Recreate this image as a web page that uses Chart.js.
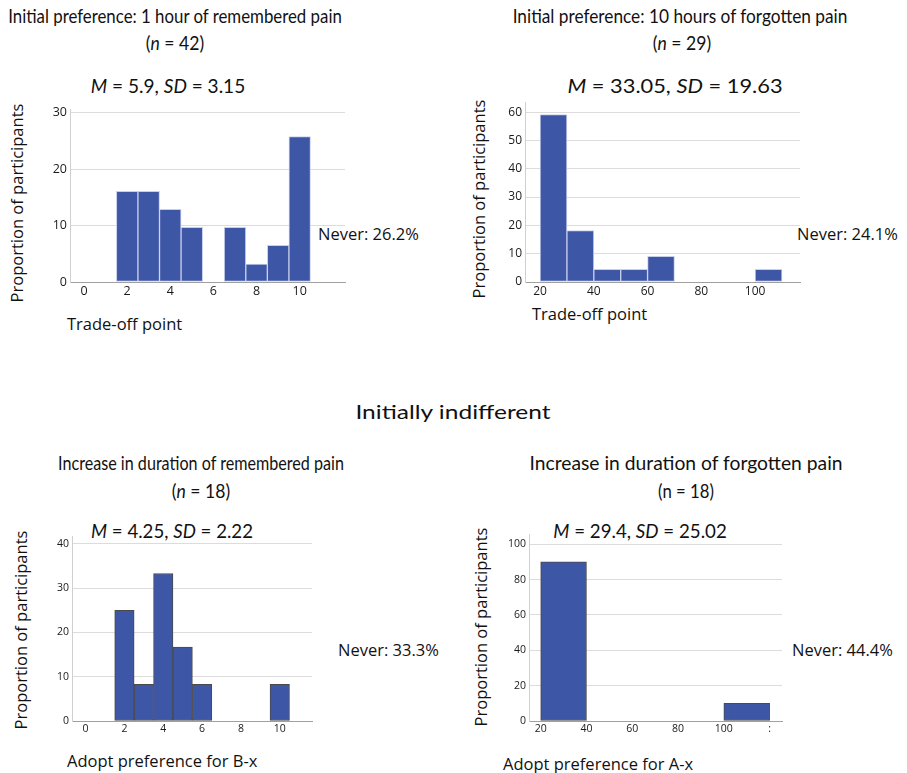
<!DOCTYPE html>
<html lang="en">
<head>
    <meta charset="UTF-8">
    <title>Trade-off point histograms</title>
    <script src="https://cdn.jsdelivr.net/npm/chart.js"></script>
    <style>
        body {
            margin: 0;
            background: #fff;
            font-family: "Open Sans", Arial, sans-serif;
            color: #111;
        }
        #page {
            position: relative;
            width: 907px;
            height: 773px;
            overflow: hidden;
        }
        .txt {
            position: absolute;
            white-space: nowrap;
            transform: translate(-50%, -50%);
        }
        .head {
            font-family: Lato, "Open Sans", sans-serif;
            font-size: 20px;
        }
        .ytitle {
            font-size: 16.5px;
            transform: translate(-50%, -50%) rotate(-90deg);
        }
        .xtitle, .never {
            font-size: 16.5px;
            transform: translate(0, -50%);
        }
        .box {
            position: absolute;
        }
    </style>
</head>
<body>
<div id="page">
    <div class="txt head" data-w="334" style="left:175px; top:15px">Initial preference: 1 hour of remembered pain</div>
    <div class="txt head" data-w="58" style="left:175px; top:42px">(<i>n</i> = 42)</div>
    <div class="txt head" data-w="154" style="left:168px; top:85px"><i>M</i> = 5.9, <i>SD</i> = 3.15</div>

    <div class="txt head" data-w="335" style="left:680px; top:15px">Initial preference: 10 hours of forgotten pain</div>
    <div class="txt head" data-w="58" style="left:682px; top:42px">(<i>n</i> = 29)</div>
    <div class="txt head" data-w="215" style="left:675px; top:85px"><i>M</i> = 33.05, <i>SD</i> = 19.63</div>

    <div class="txt head" data-w="195" style="left:453px; top:411px">Initially indifferent</div>

    <div class="txt head" data-w="286" style="left:201px; top:462px">Increase in duration of remembered pain</div>
    <div class="txt head" data-w="58" style="left:201px; top:490px">(<i>n</i> = 18)</div>
    <div class="txt head" data-w="162" style="left:172px; top:530px"><i>M</i> = 4.25, <i>SD</i> = 2.22</div>

    <div class="txt head" data-w="313" style="left:686px; top:462px">Increase in duration of forgotten pain</div>
    <div class="txt head" data-w="56" style="left:686px; top:490px">(n = 18)</div>
    <div class="txt head" data-w="174" style="left:640px; top:530px"><i>M</i> = 29.4, <i>SD</i> = 25.02</div>

    <div class="txt ytitle" style="left:16px; top:203px">Proportion of participants</div>
    <div class="txt ytitle" style="left:478px; top:199px">Proportion of participants</div>
    <div class="txt ytitle" style="left:20px; top:630px">Proportion of participants</div>
    <div class="txt ytitle" style="left:480px; top:627px">Proportion of participants</div>

    <div class="txt xtitle" style="left:67px; top:323px">Trade-off point</div>
    <div class="txt xtitle" style="left:532px; top:313px">Trade-off point</div>
    <div class="txt xtitle" style="left:67px; top:760px">Adopt preference for B-x</div>
    <div class="txt xtitle" style="left:503px; top:763px">Adopt preference for A-x</div>

    <div class="txt never" style="left:318px; top:233px">Never: 26.2%</div>
    <div class="txt never" style="left:797px; top:233px">Never: 24.1%</div>
    <div class="txt never" style="left:338px; top:649px">Never: 33.3%</div>
    <div class="txt never" style="left:792px; top:649px">Never: 44.4%</div>

    <div class="box" id="box1"><canvas id="chart1"></canvas></div>
    <div class="box" id="box2"><canvas id="chart2"></canvas></div>
    <div class="box" id="box3"><canvas id="chart3"></canvas></div>
    <div class="box" id="box4"><canvas id="chart4"></canvas></div>
</div>

<script>
    // bin centres and percentages (of those who had a trade-off point)
    const remBins = [2, 3, 4, 5, 6, 7, 8, 9, 10];
    const remValues = [16.1, 16.1, 12.9, 9.7, 0, 9.7, 3.2, 6.5, 25.8];
    const remTicks = [0, 2, 4, 6, 8, 10];

    const forgBins = [25, 35, 45, 55, 65, 75, 85, 95, 105];
    const forgValues = [59.1, 18.2, 4.5, 4.5, 9.1, 0, 0, 0, 4.5];
    const forgTicks = [20, 40, 60, 80, 100];

    const indRemBins = [2, 3, 4, 5, 6, 7, 8, 9, 10];
    const indRemValues = [25, 8.3, 33.3, 16.7, 8.3, 0, 0, 0, 8.3];
    const indRemTicks = [0, 2, 4, 6, 8, 10];

    const indForgBins = [30, 50, 70, 90, 110];
    const indForgValues = [90, 0, 0, 0, 10];
    const indForgTicks = [20, 40, 60, 80, 100, 120];
    const indForgTickLabels = ['20', '40', '60', '80', '100', ':'];

    const barFill = '#3e56a6';

    // plot area of each panel in page pixels, plus axis ranges
    const panels = [
        { id: 1, bins: remBins, values: remValues, ticks: remTicks, labels: null,
          left: 70, right: 345, top: 107, bottom: 282,
          xmin: -0.65, xmax: 12.1, ymax: 30.6, step: 10, font: 12.5, border: '#c9cfea' },
        { id: 2, bins: forgBins, values: forgValues, ticks: forgTicks, labels: null,
          left: 525, right: 800, top: 100, bottom: 282,
          xmin: 14.4, xmax: 116.7, ymax: 63.5, step: 10, font: 12, border: '#c9cfea' },
        { id: 3, bins: indRemBins, values: indRemValues, ticks: indRemTicks, labels: null,
          left: 72, right: 312, top: 535, bottom: 721,
          xmin: -0.7, xmax: 11.66, ymax: 41.7, step: 10, font: 10.5, border: '#4a4a4a' },
        { id: 4, bins: indForgBins, values: indForgValues, ticks: indForgTicks, labels: indForgTickLabels,
          left: 529, right: 782, top: 533, bottom: 721,
          xmin: 14.9, xmax: 125.4, ymax: 105.6, step: 20, font: 10.5, border: '#4a4a4a' }
    ];

    const yAxisW = 40;
    const xAxisH = 26;
    const padTop = 8;
    const padRight = 4;

    function makePanel(p) {
        const box = document.getElementById('box' + p.id);
        box.style.left = (p.left - yAxisW) + 'px';
        box.style.top = (p.top - padTop) + 'px';
        box.style.width = (yAxisW + p.right - p.left + padRight) + 'px';
        box.style.height = (padTop + p.bottom - p.top + xAxisH) + 'px';

        const yTicks = [];
        for (let v = 0; v <= p.ymax; v += p.step) yTicks.push({ value: v });

        const ctx = document.getElementById('chart' + p.id).getContext('2d');
        new Chart(ctx, {
            type: 'bar',
            data: {
                datasets: [{
                    data: p.bins.map((b, i) => ({ x: b, y: p.values[i] })),
                    // empty bins stay invisible
                    backgroundColor: c => (c.raw && c.raw.y > 0 ? barFill : 'rgba(0,0,0,0)'),
                    borderColor: c => (c.raw && c.raw.y > 0 ? p.border : 'rgba(0,0,0,0)'),
                    borderWidth: c => (c.raw && c.raw.y > 0 ? 1 : 0),
                    borderSkipped: false,
                    barPercentage: 1,
                    categoryPercentage: 1
                }]
            },
            options: {
                responsive: true,
                maintainAspectRatio: false,
                animation: false,
                layout: { padding: { top: padTop, right: padRight, left: 0, bottom: 0 } },
                plugins: { legend: { display: false }, tooltip: { enabled: false } },
                scales: {
                    x: {
                        type: 'linear',
                        min: p.xmin,
                        max: p.xmax,
                        offset: false,
                        grid: { display: false, offset: false, drawTicks: false },
                        border: { display: true, color: '#a0a0a0', width: 1 },
                        afterBuildTicks: s => { s.ticks = p.ticks.map(v => ({ value: v })); },
                        afterFit: s => { s.height = xAxisH; },
                        ticks: {
                            autoSkip: false,
                            maxRotation: 0,
                            padding: 2,
                            color: '#1a1a1a',
                            font: { family: 'Open Sans', size: p.font },
                            callback: (v, i) => (p.labels ? p.labels[i] : String(v))
                        }
                    },
                    y: {
                        min: 0,
                        max: p.ymax,
                        grid: { color: '#dcdcdc', drawTicks: false, lineWidth: 1 },
                        border: { display: true, color: '#d0d0d0', width: 1 },
                        afterBuildTicks: s => { s.ticks = yTicks.slice(); },
                        afterFit: s => { s.width = yAxisW; },
                        ticks: {
                            stepSize: p.step,
                            padding: 3,
                            color: '#1a1a1a',
                            font: { family: 'Open Sans', size: p.font }
                        }
                    }
                }
            }
        });
    }

    panels.forEach(makePanel);

    // squeeze the heading lines to the narrow widths of the original
    function fitHeads() {
        document.querySelectorAll('.head').forEach(el => {
            const w = el.offsetWidth;
            const target = +el.dataset.w;
            el.style.transform = 'translate(-50%, -50%) scaleX(' + (target / w).toFixed(3) + ')';
        });
    }
    fitHeads();
    if (document.fonts) document.fonts.ready.then(fitHeads);
</script>
</body>
</html>
